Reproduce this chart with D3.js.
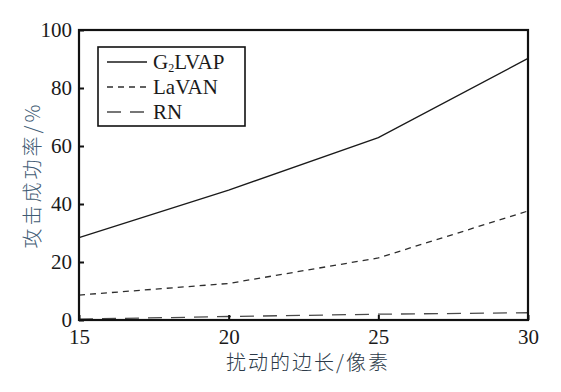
<!DOCTYPE html>
<html>
<head>
<meta charset="utf-8">
<script src="https://cdn.jsdelivr.net/npm/d3@7"></script>
<style>
  body { margin: 0; background: #fff; }
  text { font-family: "Liberation Serif", "DejaVu Serif", serif; }
  .cjk { font-family: "Noto Sans CJK SC", sans-serif; font-weight: 300; }
</style>
</head>
<body>
<div id="chart"></div>
<script>
let width = 561, height = 392;

// data
let sizes = [15, 20, 25, 30];
let g2lvap = [28.4, 44.8, 62.9, 90.2];
let lavan = [8.6, 12.6, 21.4, 37.6];
let rn = [0.3, 1.2, 2.0, 2.5];
let xTicks = [15, 20, 25, 30];
let yTicks = [0, 20, 40, 60, 80, 100];

let series = [
  { name: "G", sub: "2", rest: "LVAP", values: g2lvap, dash: null, color: "#1a1a1a" },
  { name: "LaVAN", values: lavan, dash: "6,5", color: "#2e2e2e" },
  { name: "RN", values: rn, dash: "14,9", color: "#4a4a4a" }
];

let margin = { left: 79, right: 33, top: 30, bottom: 72 };

let svg = d3.select("#chart")
  .append("svg")
  .attr("width", width)
  .attr("height", height);

let x = d3.scaleLinear().domain([15, 30]).range([margin.left, width - margin.right]);
let y = d3.scaleLinear().domain([0, 100]).range([height - margin.bottom, margin.top]);

// lines
let line = d3.line()
  .x((d, i) => x(sizes[i]))
  .y(d => y(d));

series.forEach(s => {
  svg.append("path")
    .attr("d", line(s.values))
    .attr("fill", "none")
    .attr("stroke", s.color)
    .attr("stroke-width", 1.3)
    .attr("stroke-dasharray", s.dash);
});

// axes with inward ticks
let xAxis = svg.append("g")
  .attr("transform", "translate(0," + y(0) + ")")
  .call(d3.axisBottom(x).tickValues(xTicks).tickSizeInner(-5).tickSizeOuter(0).tickPadding(9));

let yAxis = svg.append("g")
  .attr("transform", "translate(" + x(15) + ",0)")
  .call(d3.axisLeft(y).tickValues(yTicks).tickSizeInner(-5).tickSizeOuter(0).tickPadding(7));

[xAxis, yAxis].forEach(a => {
  a.select(".domain").remove();
  a.selectAll(".tick line").attr("stroke", "#111").attr("stroke-width", 2);
  a.selectAll(".tick text")
    .attr("font-family", "Liberation Serif, serif")
    .attr("font-size", 21)
    .attr("fill", "#1a1a1a");
});
yAxis.selectAll(".tick text").attr("dy", "0.32em");

// frame
svg.append("rect")
  .attr("x", x(15))
  .attr("y", y(100))
  .attr("width", x(30) - x(15))
  .attr("height", y(0) - y(100))
  .attr("fill", "none")
  .attr("stroke", "#111")
  .attr("stroke-width", 2.2);

// axis titles
svg.append("text")
  .attr("class", "cjk")
  .attr("transform", "translate(40," + 175 + ") rotate(-90)")
  .attr("text-anchor", "middle")
  .attr("font-size", 20)
  .attr("letter-spacing", 3)
  .attr("fill", "#3f5b74")
  .text("攻击成功率/%");

svg.append("text")
  .attr("class", "cjk")
  .attr("x", 308)
  .attr("y", 370)
  .attr("text-anchor", "middle")
  .attr("font-size", 20)
  .attr("letter-spacing", 2)
  .attr("fill", "#2c3a48")
  .text("扰动的边长/像素");

// legend
let legend = svg.append("g");
legend.append("rect")
  .attr("x", 98)
  .attr("y", 47)
  .attr("width", 147)
  .attr("height", 79)
  .attr("fill", "#fff")
  .attr("stroke", "#111")
  .attr("stroke-width", 1.6);

series.forEach((s, i) => {
  let cy = 62 + i * 25;
  legend.append("line")
    .attr("x1", 107).attr("x2", 147)
    .attr("y1", cy).attr("y2", cy)
    .attr("stroke", s.color)
    .attr("stroke-width", 1.4)
    .attr("stroke-dasharray", s.dash);
  let t = legend.append("text")
    .attr("x", 153)
    .attr("y", cy + 7)
    .attr("font-size", 21)
    .attr("fill", "#1a1a1a");
  if (s.sub) {
    t.append("tspan").text(s.name);
    t.append("tspan").attr("font-size", 12).attr("dy", 3).text(s.sub);
    t.append("tspan").attr("dy", -3).text(s.rest);
  } else {
    t.text(s.name);
  }
});
</script>
</body>
</html>
